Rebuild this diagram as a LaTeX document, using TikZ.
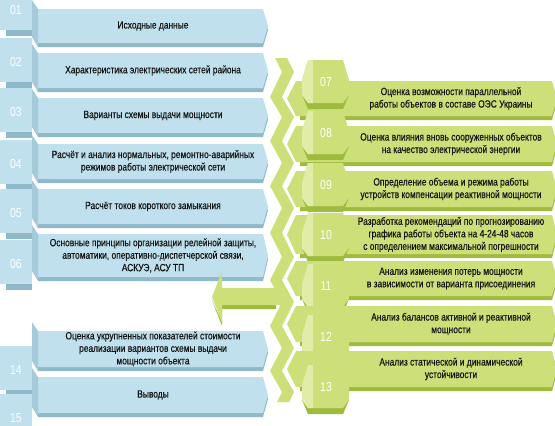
\documentclass[tikz,border=0pt]{standalone}
\usepackage{fontspec}
\setmainfont{Liberation Sans}[FakeStretch=0.80]
\newfontfamily\semib{Liberation Sans}[FakeStretch=0.80,FakeBold=0.35]
\definecolor{bl}{RGB}{191,224,236}
\definecolor{bld}{RGB}{143,185,201}
\definecolor{blm}{RGB}{165,203,218}
\definecolor{gr}{RGB}{205,223,121}
\definecolor{grd}{RGB}{158,187,62}
\definecolor{grl}{RGB}{224,236,168}
\definecolor{txt}{RGB}{20,20,20}
\tikzset{
  btext/.style={align=center,font=\semib\fontsize{10.5}{12.5}\selectfont,text=txt,inner sep=0pt},
  numtext/.style={font=\fontsize{13}{13}\selectfont,text=white,inner sep=0pt},
}
\begin{document}
\begin{tikzpicture}[x=1pt,y=-1pt]
\useasboundingbox (0,0) rectangle (555,426);
\begin{scope}
\clip (0,0) rectangle (555,426);
% blue rows
\foreach \t/\b/\n/\lab/\txt in {
  9/47/10/01/{Исходные данные},
  53/92/62/02/{Характеристика электрических сетей района},
  98/137/112/03/{Варианты схемы выдачи мощности},
  144/183/164/04/{Расчёт и анализ нормальных, ремонтно-аварийных\\режимов работы электрической сети},
  189/228/213/05/{Расчёт токов короткого замыкания},
  234/281/264/06/{Основные принципы организации релейной защиты,\\автоматики, оперативно-диспетчерской связи,\\АСКУЭ, АСУ ТП},
  331/371/370/14/{Оценка укрупненных показателей стоимости\\реализации вариантов схемы выдачи\\мощности объекта},
  377/417/418/15/{Выводы}}{
  \pgfmathsetmacro\m{(\t+\b-4)/2}
  \fill[bl] (0,\n-24) rectangle (32,\n+20);
  \fill[bld] (6,\n+20) rectangle (32,\n+26);
  \fill[bld] (38,\t+4) -- (263,\t+4) -- (268,\m+4) -- (263,\b) -- (38,\b) -- cycle;
  \fill[bl] (38,\t) -- (263,\t) -- (268,\m) -- (263,\b-4) -- (38,\b-4) -- cycle;
  \fill[blm] (32,\t-9) -- (38,\t) -- (38,\b) -- (32,\b-10) -- cycle;
  \node[btext] (b\lab) at (153,\m) {\txt};
  \node[numtext] (nb\lab) at (16,\n) {\lab};
}
% zigzag
\fill[gr] (275,58) -- (282,72) -- (270,97) -- (282,117) -- (270,141) -- (282,163) -- (270,186) -- (282,208) -- (270,233) -- (282,257) -- (270,280) -- (282,302) -- (270,326) -- (282,348) -- (270,371) -- (282,392) -- (277,402)
  -- (289,402) -- (294,392) -- (282,371) -- (294,348) -- (282,326) -- (294,302) -- (282,280) -- (294,257) -- (282,233) -- (294,208) -- (282,186) -- (294,163) -- (282,141) -- (294,117) -- (282,97) -- (294,72) -- (287,58) -- cycle;
% big arrow
\fill[grd] (212,300) -- (222,326) -- (222,309) -- (276,309) -- (276,305) -- (222,305) -- (222,322) -- cycle;
\fill[gr] (212,297) -- (222,271) -- (222,288) -- (284,288) -- (284,305) -- (222,305) -- (222,322) -- cycle;
\coordinate (arrowtip) at (212,297);
% green rows
\foreach \t/\b/\n/\lab/\txt in {
  81/120/82/07/{Оценка возможности параллельной\\работы объектов в составе ОЭС Украины},
  126/166/133/08/{Оценка влияния вновь сооруженных объектов\\на качество электрической энергии},
  171/211/185/09/{Определение объема и режима работы\\устройств компенсации реактивной мощности},
  215/258/235/10/{Разработка рекомендаций по прогнозированию\\графика работы объекта на 4-24-48 часов\\с определением максимальной погрешности},
  261/300/286/11/{Анализ изменения потерь мощности\\в зависимости от варианта присоединения},
  306/346/337/12/{Анализ балансов активной и реактивной\\мощности},
  351/391/387/13/{Анализ статической и динамической\\устойчивости}}{
  \pgfmathsetmacro\m{(\t+\b-4)/2}
  \fill[grd] (300,\t+4) -- (552,\t+4) -- (557,\m+4) -- (552,\b) -- (300,\b) -- cycle;
  \fill[gr] (296,\t) -- (552,\t) -- (557,\m) -- (552,\b-4) -- (296,\b-4) -- (287,\m) -- cycle;
  \fill[grd] (302,\n+13) -- (308,\n+27) -- (343,\n+27) -- (349,\n+13) -- cycle;
  \fill[gr] (308,\n-22) -- (343,\n-22) -- (349,\n-2) -- (349,\n+13) -- (343,\n+21) -- (308,\n+21) -- (302,\n+13) -- (302,\n-2) -- cycle;
  \fill[grl] (308,\n-22) -- (313,\n-22) -- (313,\n+21) -- (308,\n+21) -- (302,\n+13) -- (302,\n-2) -- cycle;
  \node[btext] (g\lab) at (451,\m) {\txt};
  \node[numtext] (ng\lab) at (326,\n) {\lab};
}
\end{scope}
\end{tikzpicture}
\end{document}
